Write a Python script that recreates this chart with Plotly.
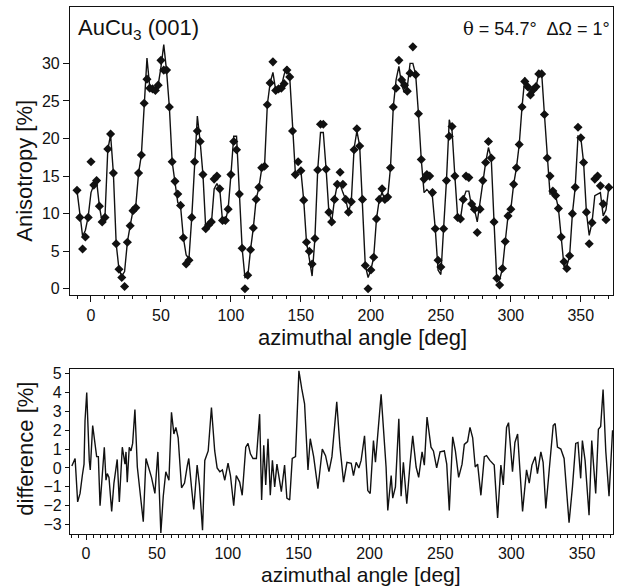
import plotly.graph_objects as go

# ---- top panel: measured anisotropy (diamonds) and fitted curve (line) ----
angle_step = 2
angles = list(range(-10, 372, angle_step))

anisotropy_data = [
    13.1, 9.5, 5.3, 6.9, 9.5, 16.9, 13.8, 14.4, 11.0, 8.9,
    9.5, 18.6, 20.6, 15.4, 6.0, 2.6, 1.5, 0.3, 6.2, 8.4,
    10.4, 10.8, 15.4, 17.8, 24.7, 27.9, 26.7, 26.6, 26.4, 27.1,
    30.4, 29.1, 29.1, 24.2, 16.9, 14.3, 12.6, 11.1, 6.8, 3.3,
    3.8, 9.5, 16.9, 21.0, 19.6, 15.2, 8.0, 8.5, 8.9, 14.6,
    15.0, 13.3, 9.1, 9.1, 10.6, 15.2, 19.6, 18.5, 12.6, 5.4,
    0.0, 1.8, 5.2, 8.1, 11.9, 13.5, 16.1, 16.3, 24.5, 27.4,
    30.2, 26.4, 26.6, 26.7, 27.3, 29.1, 28.2, 21.0, 15.2, 16.9,
    15.7, 11.8, 6.2, 5.0, 3.3, 6.7, 15.8, 21.9, 21.9, 15.9,
    10.2, 8.9, 11.9, 13.9, 15.5, 13.9, 11.9, 10.2, 11.6, 18.5,
    21.3, 19.0, 11.9, 3.1, 0.0, 2.5, 4.2, 9.3, 11.9, 13.3,
    11.9, 12.2, 16.1, 24.2, 26.7, 30.4, 27.8, 27.1, 26.3, 28.7,
    32.2, 28.5, 23.3, 17.2, 14.6, 15.2, 15.0, 12.8, 8.0, 3.8,
    2.9, 8.0, 14.4, 20.3, 21.6, 15.0, 9.5, 9.3, 11.9, 15.0,
    14.8, 11.3, 10.6, 7.5, 10.6, 14.4, 16.8, 19.6, 17.4, 8.9,
    1.4, 0.5, 2.7, 6.3, 9.7, 10.6, 13.9, 16.1, 19.2, 24.2,
    27.6, 26.9, 25.8, 26.5, 26.9, 28.6, 28.6, 23.2, 17.4, 15.0,
    13.0, 12.4, 10.7, 6.9, 3.6, 2.7, 4.4, 10.0, 13.5, 21.5,
    20.1, 16.8, 10.2, 6.0, 8.8, 14.6, 15.0, 13.7, 11.3, 9.2,
    13.5,
]

anisotropy_fit = [
    13.1, 9.6, 7.0, 7.8, 9.6, 12.8, 13.8, 14.4, 11.0, 8.8,
    9.6, 18.5, 20.5, 15.4, 6.0, 2.6, 1.7, 2.3, 6.2, 8.4,
    10.4, 11.0, 15.4, 17.8, 24.6, 30.7, 26.8, 26.5, 26.5, 27.1,
    29.5, 32.5, 29.0, 24.2, 16.9, 14.3, 11.5, 11.0, 6.8, 4.5,
    4.0, 9.5, 16.9, 23.0, 19.6, 15.2, 8.0, 8.3, 8.6, 13.3,
    14.0, 13.3, 9.0, 9.0, 10.6, 15.2, 20.3, 20.3, 12.6, 5.4,
    1.5, 1.6, 5.2, 8.1, 11.9, 13.5, 16.0, 16.3, 24.5, 27.4,
    28.8, 26.4, 26.6, 26.9, 28.5, 29.6, 28.2, 21.0, 15.5, 15.5,
    15.7, 11.8, 6.2, 4.0, 1.7, 6.7, 15.8, 20.8, 20.8, 15.9,
    10.2, 8.9, 11.9, 13.9, 13.9, 12.8, 11.9, 10.2, 11.6, 18.7,
    21.0, 19.0, 11.9, 3.1, 1.5, 2.5, 4.2, 9.3, 11.9, 12.8,
    11.9, 12.2, 16.1, 24.2, 27.8, 29.6, 27.1, 26.1, 26.8, 30.0,
    30.0, 28.5, 23.3, 17.2, 12.8, 13.2, 12.8, 12.2, 8.0, 2.5,
    1.9, 8.0, 14.4, 22.5, 21.0, 15.0, 9.5, 9.3, 11.9, 13.0,
    13.0, 10.9, 10.6, 8.9, 11.5, 14.4, 16.8, 18.8, 17.4, 8.9,
    1.0, 1.2, 2.7, 6.3, 9.7, 10.6, 13.9, 16.1, 19.2, 24.2,
    28.1, 26.9, 25.8, 26.0, 26.9, 28.6, 28.8, 23.2, 17.4, 12.6,
    12.6, 12.4, 10.7, 6.9, 3.0, 3.0, 4.4, 10.0, 13.5, 20.3,
    20.1, 16.8, 10.2, 7.1, 8.8, 12.4, 12.6, 12.8, 9.7, 10.5,
    13.5,
]

# ---- bottom panel: difference data - fit ----
diff_angle = [
    -10, -7.7, -5.9, -4.2, -2.6, -1.4, -0.7, 0.5, 2.3, 3, 4.7, 6.3, 7.5, 8.7, 9.9,
    12.9, 14.1, 15, 16.2, 18.1, 19.7, 22, 23.5, 25.6, 27.5, 28.2, 29.1, 30.5, 31.7,
    32.9, 34.5, 36.2, 38, 40.4, 42.3, 44, 46.2, 48.6, 50.7, 52.8, 54.5, 56.3, 58.5,
    60.3, 62, 63.4, 65, 67.4, 69.5, 71.4, 72.5, 74.4, 76, 78.4, 80, 82.2, 83.8, 86.2,
    88.5, 90.8, 92.5, 94.4, 96.2, 97.9, 100.2, 101.9, 104.2, 106, 108.4, 110.2, 112.7,
    114.3, 116, 117.8, 120.2, 122.5, 123.9, 125.4, 126.8, 128.4, 130, 131.5, 133.1,
    134.7, 136.3, 137.8, 140.1, 141.7, 143.7, 145.5, 147.8, 150.2, 152.2, 154.2, 156.6,
    158.2, 160.6, 163.6, 166.7, 169, 171.4, 173.5, 176.9, 179.2, 181.7, 184.1, 187.1,
    188.7, 190.6, 192.5, 194.1, 196.5, 198.8, 200.5, 202.8, 204.2, 208.2, 211.7, 212.9,
    215.3, 216.4, 218.3, 220.7, 222.3, 223.9, 226.3, 228.6, 230.5, 232.9, 234.7, 237.1,
    238.7, 240.6, 243.4, 245.1, 247.4, 249.8, 252.8, 254.5, 256.3, 258.7, 260.6, 262.9,
    265.3, 266.9, 269.2, 270.9, 272.8, 274.6, 276.3, 278.6, 281, 282.6, 284.9, 288,
    290.4, 292.7, 294.4, 296.7, 298.1, 300.9, 302.6, 304.5, 308, 310.8, 312.7, 314.6,
    316.9, 318.5, 320.9, 322.5, 324.4, 326.8, 329.6, 331, 332.6, 335, 337.3, 340.8,
    343.2, 345.5, 347.1, 349, 350.2, 352.1, 354.9, 356.8, 359.6, 361.5, 363.1, 364.8,
    366.7, 369, 371.5,
]
diff_value = [
    0.1, 0.5, -1.8, -1.35, -0.4, 0.2, 2.5, 4.0, 0.4, -0.1, 2.25, 1.1, 0.6, 0.6, -2.0,
    1.1, -0.65, -0.3, -0.5, -2.3, -0.8, 0.45, -1.8, 1.1, 0.2, 0.85, -0.75, 1.1, 0.9,
    1.3, 3.1, 0.05, -1.35, -2.85, 0.5, 0.1, -0.5, -1.35, 0.85, -3.45, -1.5, -0.2, -0.65,
    2.95, 1.8, 2.15, 1.6, -1.05, -0.8, 0.1, 0.5, -1.0, -2.2, 0.15, -0.9, -3.3, 0.4, 0.9,
    3.2, 0.9, 0.0, -0.2, -0.1, -0.65, 0.25, -0.4, -2.0, -0.4, -0.75, -1.45, 1.1,
    1.3, 0.75, 0.5, 0.5, 2.85, -1.7, 1.2, -0.9, 1.55, -1.45, 0.4, -1.0,
    0.2, -0.5, -1.25, 0.15, -1.6, -1.7, 0.5, 0.6, 5.15, 4.2, 3.4, -0.1,
    1.55, 0.6, -1.1, 1.0, 0.65, -0.2, 0.6, 3.5, 1.1, -0.75, 0.3, 0.25,
    -0.4, 0.3, 0.0, 0.4, 1.7, -1.2, -1.35, 1.45, 0.3, 3.9, 0.05, -2.25,
    -0.4, -1.6, -1.0, 2.6, -1.5, 0.3, -1.9, 0.2, 1.7, 0.05, -0.5, 0.85,
    0.15, 2.7, 1.1, 0.9, 0.0, 0.85, 0.9, 0.2, -2.25, 1.65, 0.9, -0.5,
    0.2, 1.25, 1.4, 2.15, 1.6, 0.05, 0.2, -1.45, 0.6, 0.65, 0.4, 0.15,
    -2.65, 0.15, -0.9, 2.15, 2.4, -0.2, 1.35, 1.8, -2.3, -0.1, -0.8, 0.15,
    0.6, -0.3, 0.85, 0.3, -2.15, -0.1, 2.25, 2.35, 1.1, 1.0, 0.5, -2.9,
    -1.0, 1.3, 1.35, -0.55, 1.45, 0.4, -2.5, 1.45, -1.35, 2.05, 2.2, 4.15,
    0.9, -1.5, 2.0,
]

top_yticks = [0, 5, 10, 15, 20, 25, 30]
bottom_yticks = [-3, -2, -1, 0, 1, 2, 3, 4, 5]
x_ticks = [0, 50, 100, 150, 200, 250, 300, 350]

FONT = "Liberation Sans, Arial, Helvetica, sans-serif"
INK = "#111111"

fig = go.Figure()
fig.add_trace(go.Scatter(x=angles, y=anisotropy_fit, mode="lines",
                         line=dict(color=INK, width=1.4), xaxis="x", yaxis="y",
                         showlegend=False, hoverinfo="skip"))
fig.add_trace(go.Scatter(x=angles, y=anisotropy_data, mode="markers",
                         marker=dict(symbol="diamond", size=7, color=INK),
                         xaxis="x", yaxis="y", showlegend=False))
fig.add_trace(go.Scatter(x=diff_angle, y=diff_value, mode="lines",
                         line=dict(color=INK, width=1.4), xaxis="x2", yaxis="y2",
                         showlegend=False))

axis_common = dict(showline=True, mirror=True, linecolor=INK, linewidth=1.2,
                   showgrid=False, zeroline=False, ticks="outside", tickcolor=INK,
                   tickfont=dict(family=FONT, size=16, color=INK))

top_bottom = (534 - 293) / 531
bottom_top = (534 - 368) / 531

fig.update_layout(
    width=623, height=588,
    margin=dict(l=70, r=10, t=3, b=54),
    paper_bgcolor="white", plot_bgcolor="white",
    xaxis=dict(domain=[0, 1], anchor="y", range=[-15, 373], tickvals=x_ticks,
               ticklen=6, tickwidth=1,
               minor=dict(ticks="outside", dtick=10, tick0=0, ticklen=3, tickcolor=INK),
               **axis_common),
    yaxis=dict(domain=[top_bottom, 1], anchor="x", range=[-0.8, 37.5],
               tickvals=top_yticks, ticklen=6, **axis_common),
    xaxis2=dict(domain=[0, 1], anchor="y2", range=[-11.3, 371.8], tickvals=x_ticks,
                ticklen=5, tickwidth=1,
                minor=dict(ticks="outside", dtick=5, tick0=0, ticklen=3, tickcolor=INK),
                **axis_common),
    yaxis2=dict(domain=[0, bottom_top], anchor="x2", range=[-3.5, 5.23],
                tickvals=bottom_yticks, ticklen=4, **axis_common),
)

def px_x(p):
    return (p - 70) / 543

def px_y(p):
    return (534 - p) / 531

title_font = dict(family=FONT, size=22, color=INK)
ann = [
    dict(text="Anisotropy [%]", x=px_x(25), y=px_y(168), textangle=-90, font=title_font),
    dict(text="difference [%]", x=px_x(26), y=px_y(448), textangle=-90, font=title_font),
    dict(text="azimuthal angle [deg]", x=px_x(362), y=px_y(336), font=title_font),
    dict(text="azimuthal angle [deg]", x=px_x(361), y=px_y(575),
         font=dict(family=FONT, size=21, color=INK)),
    dict(text="AuCu<sub>3</sub> (001)", x=px_x(76), y=px_y(25), xanchor="left",
         font=dict(family=FONT, size=22, color=INK)),
    dict(text="<span style='font-family:DejaVu Serif'>θ</span> = 54.7°\u00a0\u00a0ΔΩ = 1°",
         x=px_x(612), y=px_y(25), xanchor="right",
         font=dict(family=FONT, size=18, color=INK)),
]
for a in ann:
    a.update(xref="paper", yref="paper", showarrow=False)
    a.setdefault("xanchor", "center")
    a.setdefault("yanchor", "middle")
fig.update_layout(annotations=ann)

fig.write_html("out.html", config={"displayModeBar": False},
               post_script="document.body.style.margin='0';document.body.style.padding='0';")
